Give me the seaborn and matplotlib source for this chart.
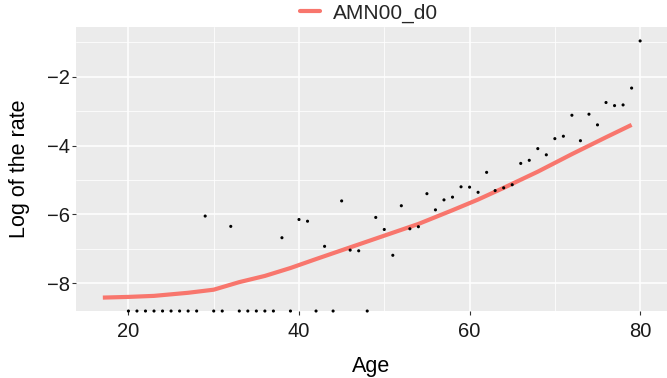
import numpy as np
import pandas as pd
import seaborn as sns
import matplotlib.pyplot as plt
from matplotlib.lines import Line2D

# ---- data ----
obs_age = list(range(20, 81))
obs_log_rate = [
    -np.inf, -np.inf, -np.inf, -np.inf, -np.inf, -np.inf, -np.inf, -np.inf, -np.inf,  # 20-28
    -6.05,            # 29
    -np.inf, -np.inf, # 30-31
    -6.35,            # 32
    -np.inf, -np.inf, -np.inf, -np.inf, -np.inf,  # 33-37
    -6.68,            # 38
    -np.inf,          # 39
    -6.15, -6.20,     # 40-41
    -np.inf,          # 42
    -6.93,            # 43
    -np.inf,          # 44
    -5.61, -7.04, -7.06,  # 45-47
    -np.inf,          # 48
    -6.09, -6.44, -7.19, -5.75, -6.42, -6.36, -5.40, -5.87, -5.58, -5.50,  # 49-58
    -5.20, -5.21, -5.36, -4.78, -5.31, -5.23, -5.14, -4.52, -4.43, -4.09,  # 59-68
    -4.27, -3.80, -3.73, -3.12, -3.86, -3.09, -3.40, -2.75, -2.84, -2.82,  # 69-78
    -2.33, -0.96,     # 79-80
]

fit_age = [17, 20, 23, 27, 30, 33, 36, 39, 42, 46, 50, 54, 58, 61, 64, 68, 72, 76, 79]
fit_log_rate = [-8.42, -8.40, -8.37, -8.28, -8.19, -7.97, -7.79, -7.56, -7.30,
                -6.96, -6.62, -6.28, -5.88, -5.57, -5.23, -4.76, -4.25, -3.76, -3.40]
series_name = "AMN00_d0"

x_ticks = [20, 40, 60, 80]
y_ticks = [-8, -6, -4, -2]

# ---- style ----
sns.set_theme(style="darkgrid")
plt.rcParams['font.family'] = ['Liberation Sans', 'DejaVu Sans']

fig = plt.figure(figsize=(6.67, 3.78), dpi=100)
ax = fig.add_axes([0.1139, 0.1772, 0.8861, 0.7514])
ax.set_facecolor('#EBEBEB')

x_lim = (13.85, 83.15)
y_lim = (-8.81, -0.555)
ax.set_xlim(*x_lim)
ax.set_ylim(*y_lim)

# fitted curve
fit_df = pd.DataFrame({"Age": fit_age, "rate": fit_log_rate, "series": series_name})
sns.lineplot(data=fit_df, x="Age", y="rate", color="#F8766D", linewidth=3.0,
             ax=ax, legend=False, zorder=3)
ax.lines[-1].set_solid_capstyle('butt')
ax.lines[-1].set_solid_joinstyle('round')

# observed points (-Inf squished to the panel bottom, as ggplot does)
obs = np.array(obs_log_rate, dtype=float)
obs_plot = np.where(np.isinf(obs), y_lim[0], obs)
obs_df = pd.DataFrame({"Age": obs_age, "rate": obs_plot})
sns.scatterplot(data=obs_df, x="Age", y="rate", color="black", s=5,
                edgecolor="none", ax=ax, legend=False, zorder=4, clip_on=False)

# grid / ticks
ax.set_xticks(x_ticks)
ax.set_yticks(y_ticks)
ax.set_xticks([30, 50, 70], minor=True)
ax.set_yticks([-7, -5, -3, -1], minor=True)
ax.grid(which='major', color='white', linewidth=1.1)
ax.grid(which='minor', color='white', linewidth=0.55)
ax.set_axisbelow(True)
for s in ax.spines.values():
    s.set_visible(False)
ax.tick_params(which='major', length=3.0, width=0.8, color='#333333',
               labelsize=14.5, labelcolor='#1a1a1a', bottom=True, left=True)
ax.tick_params(axis='x', which='major', pad=5)
ax.tick_params(axis='y', which='major', pad=1.5)
ax.tick_params(which='minor', length=0)

ax.set_xlabel("Age", fontsize=15.5, color='black', labelpad=11)
ax.set_ylabel("Log of the rate", fontsize=15.5, color='black', labelpad=12)

handle = Line2D([], [], color="#F8766D", linewidth=3.0)
fig.legend([handle], [series_name], loc='upper center',
           bbox_to_anchor=(0.553, 1.04), frameon=False, fontsize=15,
           handlelength=1.0, handletextpad=0.6)

fig.savefig("out.png", dpi=100)
